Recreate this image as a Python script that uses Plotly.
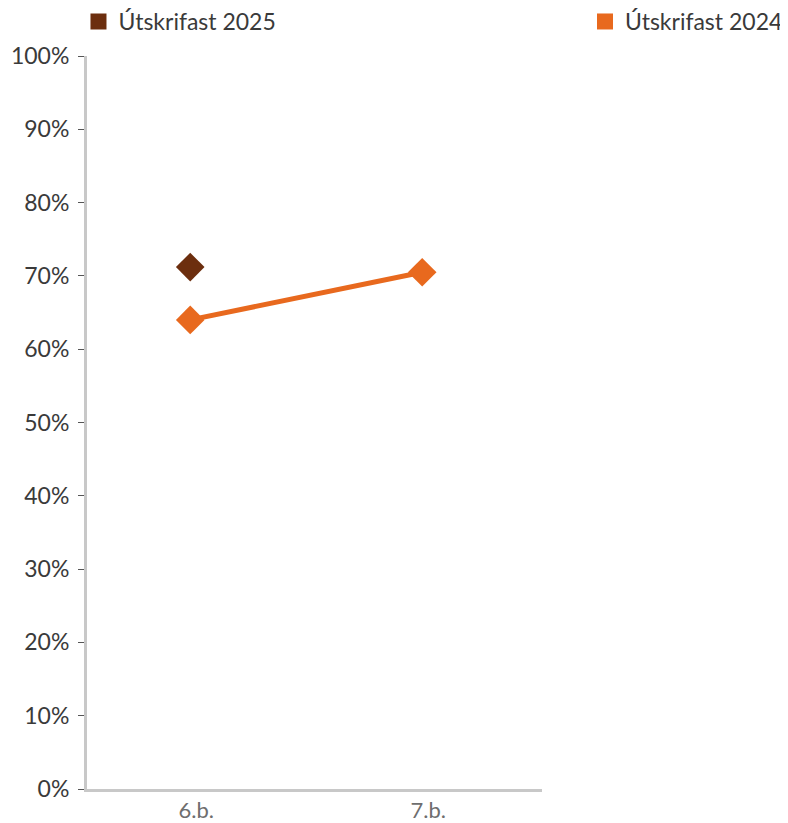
import plotly.graph_objects as go

categories = ["6.b.", "7.b."]
cat_2025 = ["6.b."]
values_2025 = [0.712]
values_2024 = [0.640, 0.705]
yticks = [i / 10 for i in range(11)]
ytick_labels = [f"{i * 10}%" for i in range(11)]

brown = "#6C2E0E"
orange = "#E8691E"
font = "Lato"

fig = go.Figure()
fig.add_trace(go.Scatter(x=categories, y=values_2024, mode="lines+markers",
                         line=dict(color=orange, width=5),
                         marker=dict(symbol="diamond", size=22, color=orange),
                         showlegend=False))
fig.add_trace(go.Scatter(x=cat_2025, y=values_2025, mode="markers",
                         marker=dict(symbol="diamond", size=22, color=brown),
                         showlegend=False))
# legend entries with square swatches
fig.add_trace(go.Scatter(x=[None], y=[None], mode="markers", name="Útskrifast 2025",
                         marker=dict(symbol="square", size=18, color=brown),
                         legend="legend"))
fig.add_trace(go.Scatter(x=[None], y=[None], mode="markers", name="Útskrifast 2024",
                         marker=dict(symbol="square", size=18, color=orange),
                         legend="legend2"))

# page body has an 8px margin, so the figure is a bit smaller than the window
fig.update_layout(
    width=780, height=815,
    margin=dict(l=79, r=3, t=48, b=34),
    plot_bgcolor="white", paper_bgcolor="white",
    font=dict(family=font, size=23, color="#3a3a3a"),
    legend=dict(x=-0.0122, y=0.9834, xanchor="left", yanchor="middle", yref="container",
                font=dict(size=23, color="#3a3a3a"), bgcolor="rgba(0,0,0,0)"),
    legend2=dict(x=0.7267, y=0.9834, xanchor="left", yanchor="middle", yref="container",
                 font=dict(size=23, color="#3a3a3a"), bgcolor="rgba(0,0,0,0)"),
    xaxis=dict(domain=[0, 0.652], type="category", range=[-0.445, 1.517],
               showline=True, linecolor="#c8c8c8", linewidth=3, automargin=False,
               showgrid=False, ticks="", ticklabelshift=6,
               tickfont=dict(color="#6e6e6e", size=22),
               fixedrange=True),
    yaxis=dict(range=[0, 1.0], tickvals=yticks, ticktext=ytick_labels,
               showline=True, linecolor="#c8c8c8", linewidth=3, automargin=False,
               showgrid=False, zeroline=False, ticks="outside", ticklen=6,
               ticklabelstandoff=4,
               tickcolor="#555555", tickwidth=1, tickfont=dict(size=23, color="#3a3a3a")),
)

fig.write_html("out.html")
